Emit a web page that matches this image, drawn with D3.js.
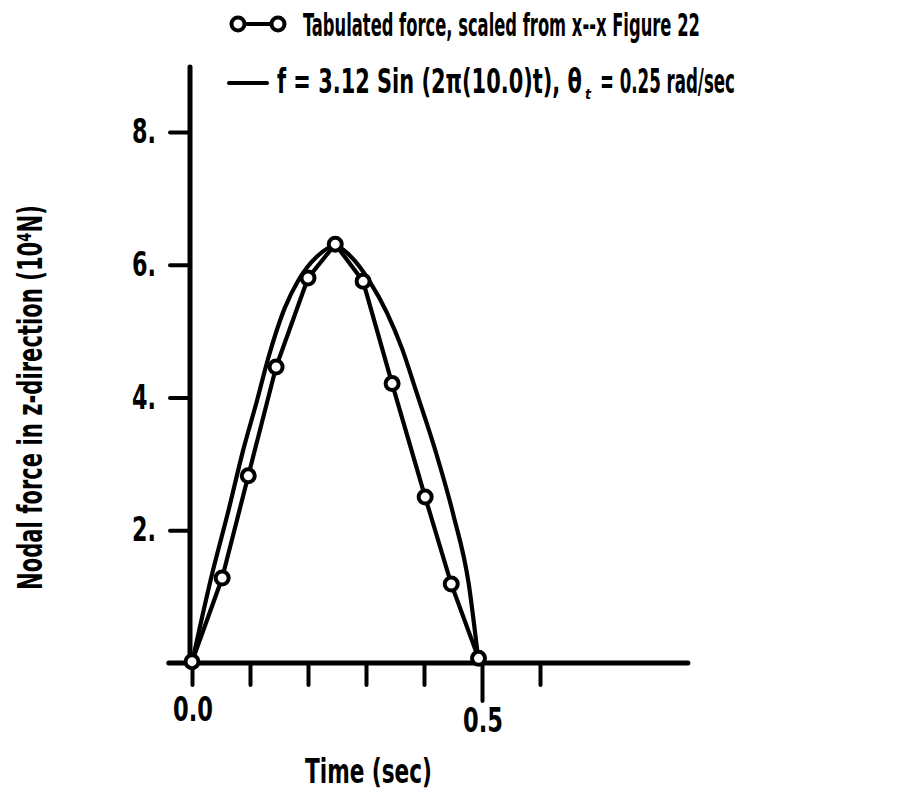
<!DOCTYPE html>
<html>
<head>
<meta charset="utf-8">
<script src="https://cdn.jsdelivr.net/npm/d3@7/dist/d3.min.js"></script>
<style>
  html, body { margin: 0; padding: 0; background: #fff; }
  svg { display: block; }
  text { font-family: "Liberation Sans Narrow", "DejaVu Sans Condensed", "Liberation Sans", sans-serif; font-weight: bold; fill: #000; }
</style>
</head>
<body>
<svg id="chart" width="918" height="793"></svg>
<script>
// ---- data ----
const tabTime  = [0, 0.052, 0.097, 0.145, 0.200, 0.247, 0.295, 0.345, 0.402, 0.447, 0.494];
const tabForce = [0.02, 1.28, 2.82, 4.46, 5.80, 6.31, 5.75, 4.21, 2.50, 1.19, 0.07];

const sinTime  = [0, 0.034, 0.063, 0.088, 0.112, 0.131, 0.160, 0.183, 0.215, 0.247,
                  0.272, 0.307, 0.336, 0.362, 0.387, 0.422, 0.451, 0.477, 0.494];
const sinForce = [0, 1.32, 2.30, 3.20, 3.95, 4.58, 5.35, 5.76, 6.12, 6.29,
                  6.14, 5.74, 5.28, 4.74, 4.08, 3.13, 2.22, 1.20, 0.02];

const xTicks = [0, 0.1, 0.2, 0.3, 0.4, 0.5, 0.6];
const xTickLabels = {0: "0.0", 0.5: "0.5"};
const yTicks = [2, 4, 6, 8];
const yTickLabels = ["2.", "4.", "6.", "8."];

const legendTab = "Tabulated force, scaled from x--x Figure 22";
const legendSinA = "f = 3.12 Sin (2\u03c0(10.0)t), \u03b8";
const legendSinSub = "t";
const legendSinB = "= 0.25 rad/sec";
const xTitle = "Time (sec)";
const yTitle = "Nodal force in z-direction (10\u2074N)";

// ---- drawing ----
const svg = d3.select("#chart");
const x = d3.scaleLinear().domain([0, 0.5]).range([192, 482]);
const y = d3.scaleLinear().domain([0, 8]).range([663, 132]);

// text squeezed horizontally to a target width (condensed face)
function fitText(str, px, py, size, width, rot) {
  const t = svg.append("text").attr("font-size", size).text(str);
  const natural = t.node().getComputedTextLength();
  const sx = width / natural;
  t.attr("transform", `translate(${px},${py})` + (rot ? ` rotate(${rot})` : "") + ` scale(${sx},1)`);
  return t;
}

// x axis ticks
const gx = svg.append("g").attr("transform", `translate(0,${y(0)})`)
  .call(d3.axisBottom(x).tickValues(xTicks).tickSize(22).tickFormat(""));
gx.select(".domain").remove();
gx.selectAll(".tick line").attr("stroke", "#000").attr("stroke-width", 4)
  .attr("stroke-linecap", "round")
  .attr("y2", d => d === 0.5 ? 38 : 22);

// y axis ticks
const gy = svg.append("g").attr("transform", `translate(${x(0) - 2},0)`)
  .call(d3.axisLeft(y).tickValues(yTicks).tickSize(20).tickFormat(""));
gy.select(".domain").remove();
gy.selectAll(".tick line").attr("stroke", "#000").attr("stroke-width", 4)
  .attr("stroke-linecap", "round");

// axis lines
svg.append("line")
  .attr("x1", x(-0.04)).attr("x2", x(0.855))
  .attr("y1", y(0)).attr("y2", y(0))
  .attr("stroke", "#000").attr("stroke-width", 5).attr("stroke-linecap", "round");
svg.append("line")
  .attr("x1", x(0) - 2).attr("x2", x(0) - 2)
  .attr("y1", y(0)).attr("y2", y(8.98))
  .attr("stroke", "#000").attr("stroke-width", 5).attr("stroke-linecap", "round");

// tick labels
xTicks.filter(d => xTickLabels[d] !== undefined).forEach(d => {
  fitText(xTickLabels[d], x(d) - 19, y(0) + (d === 0 ? 58 : 69), 34, 40);
});
yTicks.forEach((d, i) => {
  fitText(yTickLabels[i], 132, y(d) + 11, 33, 24);
});

// smooth sine curve
const lineGen = d3.line().x(d => x(d[0])).y(d => y(d[1])).curve(d3.curveMonotoneX);
svg.append("path")
  .datum(sinTime.map((t, i) => [t, sinForce[i]]))
  .attr("d", lineGen)
  .attr("fill", "none").attr("stroke", "#000").attr("stroke-width", 4.2)
  .attr("stroke-linejoin", "round");

// tabulated polyline
const polyGen = d3.line().x(d => x(d[0])).y(d => y(d[1]));
const tabData = tabTime.map((t, i) => [t, tabForce[i]]);
svg.append("path")
  .datum(tabData)
  .attr("d", polyGen)
  .attr("fill", "none").attr("stroke", "#000").attr("stroke-width", 4.2)
  .attr("stroke-linejoin", "round");
svg.selectAll("circle.tab").data(tabData).enter().append("circle")
  .attr("class", "tab")
  .attr("cx", d => x(d[0])).attr("cy", d => y(d[1]))
  .attr("r", 6.5)
  .attr("fill", "#fff").attr("stroke", "#000").attr("stroke-width", 4);

// legend
svg.append("line").attr("x1", 238).attr("x2", 278).attr("y1", 24).attr("y2", 24)
  .attr("stroke", "#000").attr("stroke-width", 4);
[238, 278].forEach(cx => svg.append("circle").attr("cx", cx).attr("cy", 24).attr("r", 6.5)
  .attr("fill", "#fff").attr("stroke", "#000").attr("stroke-width", 4));
fitText(legendTab, 303, 36, 32, 397);

svg.append("line").attr("x1", 229).attr("x2", 267).attr("y1", 83).attr("y2", 83)
  .attr("stroke", "#000").attr("stroke-width", 4).attr("stroke-linecap", "round");
fitText(legendSinA, 277, 93, 33, 305);
svg.append("text").attr("x", 585).attr("y", 99).attr("font-size", 14)
  .attr("font-style", "italic").text(legendSinSub);
fitText(legendSinB, 600, 93, 33, 135);

// axis titles
fitText(xTitle, 305, 783, 33, 127);
fitText(yTitle, 42, 590, 34, 385, -90);
</script>
</body>
</html>
